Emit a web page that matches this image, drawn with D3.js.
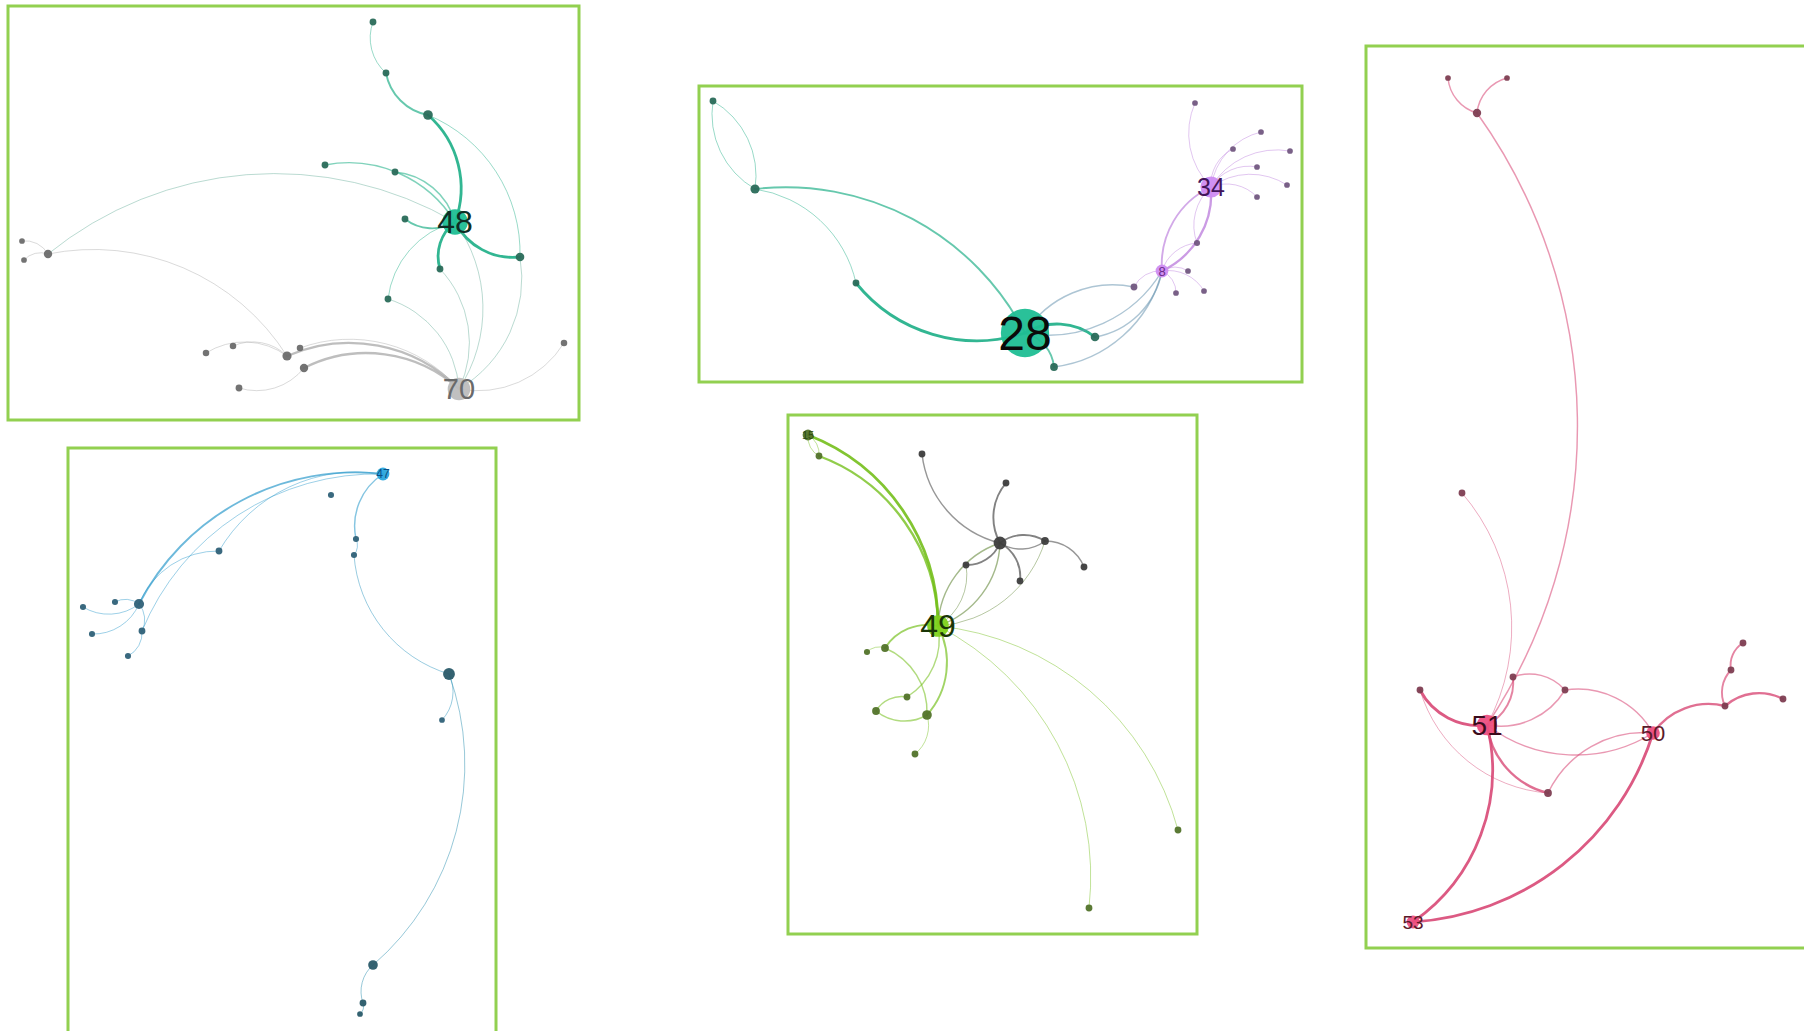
<!DOCTYPE html>
<html>
<head>
<meta charset="utf-8">
<script src="https://cdn.jsdelivr.net/npm/d3@7"></script>
<style>
  html, body { margin: 0; padding: 0; background: #fff; overflow: hidden; }
  svg { display: block; }
</style>
</head>
<body>
<svg id="chart" width="1804" height="1031"></svg>
<script>
// Community frames (layout space, same units as node coordinates)
const frames = [
  { id: "A", x0: 8,    y0: 6,   x1: 579,  y1: 420 },
  { id: "B", x0: 699,  y0: 86,  x1: 1302, y1: 382 },
  { id: "C", x0: 68,   y0: 448, x1: 496,  y1: 1070 },
  { id: "D", x0: 788,  y0: 415, x1: 1197, y1: 934 },
  { id: "E", x0: 1366, y0: 46,  x1: 1840, y1: 948 }
];

const groupColors = {
  teal: "#1fbe93",
  grey: "#bdbdbd",
  purple: "#cf8cf2",
  blue: "#2aa5dd",
  cyan: "#1b93b8",
  green: "#7fd11e",
  dark: "#4d4d4d",
  pink: "#ec4f80"
};

// ---- Community A (48 / 70) ----
const nodesA = [
  { id: "A1", x: 373, y: 22,  v: 1,   g: "teal" },
  { id: "A2", x: 386, y: 73,  v: 1,   g: "teal" },
  { id: "A3", x: 428, y: 115, v: 2,   g: "teal" },
  { id: "A4", x: 325, y: 165, v: 1,   g: "teal" },
  { id: "A5", x: 395, y: 172, v: 1,   g: "teal" },
  { id: "A48", x: 455, y: 222, v: 14, g: "teal", label: "48" },
  { id: "A6", x: 405, y: 219, v: 1,   g: "teal" },
  { id: "A7", x: 520, y: 257, v: 1.6, g: "teal" },
  { id: "A8", x: 440, y: 269, v: 1,   g: "teal" },
  { id: "A9", x: 388, y: 299, v: 1,   g: "teal" },
  { id: "A10", x: 22,  y: 241, v: 0.7, g: "grey" },
  { id: "A11", x: 24,  y: 260, v: 0.7, g: "grey" },
  { id: "A12", x: 48,  y: 254, v: 1.5, g: "grey" },
  { id: "A13", x: 206, y: 353, v: 0.9, g: "grey" },
  { id: "A14", x: 233, y: 346, v: 0.9, g: "grey" },
  { id: "A15", x: 287, y: 356, v: 1.8, g: "grey" },
  { id: "A16", x: 300, y: 348, v: 0.9, g: "grey" },
  { id: "A17", x: 304, y: 368, v: 1.5, g: "grey" },
  { id: "A18", x: 239, y: 388, v: 1,   g: "grey" },
  { id: "A70", x: 459, y: 389, v: 11,  g: "grey", label: "70" },
  { id: "A19", x: 564, y: 343, v: 0.9, g: "grey" }
];
const edgesA = [
  ["A2", "A1", 1], ["A3", "A2", 2], ["A3", "A48", 3], ["A4", "A48", 1.5],
  ["A5", "A48", 1.5], ["A48", "A6", 2], ["A7", "A48", 3], ["A8", "A48", 3],
  ["A3", "A7", 1], ["A7", "A70", 1], ["A48", "A70", 1], ["A8", "A70", 1],
  ["A9", "A48", 1], ["A9", "A70", 1], ["A12", "A48", 1], ["A12", "A15", 1],
  ["A10", "A12", 1], ["A11", "A12", 1], ["A13", "A15", 1], ["A14", "A15", 1],
  ["A15", "A70", 2.5], ["A17", "A70", 2.5], ["A16", "A70", 1], ["A17", "A18", 1],
  ["A19", "A70", 1]
];

// ---- Community B (28 / 8 / 34) ----
const nodesB = [
  { id: "B1", x: 713, y: 101, v: 1,   g: "teal" },
  { id: "B2", x: 755, y: 189, v: 1.8, g: "teal" },
  { id: "B3", x: 856, y: 283, v: 1,   g: "teal" },
  { id: "B28", x: 1025, y: 333, v: 50, g: "teal", label: "28" },
  { id: "B4", x: 1095, y: 337, v: 1.6, g: "teal" },
  { id: "B5", x: 1054, y: 367, v: 1.3, g: "teal" },
  { id: "B6", x: 1134, y: 287, v: 1,   g: "purple" },
  { id: "B8", x: 1162, y: 271, v: 3.5, g: "purple", label: "8" },
  { id: "B7", x: 1176, y: 293, v: 0.7, g: "purple" },
  { id: "B9", x: 1204, y: 291, v: 0.7, g: "purple" },
  { id: "B10", x: 1188, y: 271, v: 0.7, g: "purple" },
  { id: "B11", x: 1197, y: 243, v: 0.8, g: "purple" },
  { id: "B34", x: 1211, y: 187, v: 9.5, g: "purple", label: "34" },
  { id: "B12", x: 1195, y: 103, v: 0.7, g: "purple" },
  { id: "B13", x: 1261, y: 132, v: 0.7, g: "purple" },
  { id: "B14", x: 1233, y: 149, v: 0.7, g: "purple" },
  { id: "B15", x: 1290, y: 151, v: 0.7, g: "purple" },
  { id: "B16", x: 1257, y: 167, v: 0.7, g: "purple" },
  { id: "B17", x: 1287, y: 185, v: 0.7, g: "purple" },
  { id: "B18", x: 1257, y: 197, v: 0.7, g: "purple" }
];
const edgesB = [
  ["B1", "B2", 1], ["B2", "B1", 1], ["B2", "B28", 2], ["B2", "B3", 1],
  ["B28", "B3", 3], ["B28", "B4", 3], ["B28", "B5", 2], ["B8", "B5", 1.5],
  ["B8", "B4", 1.5], ["B28", "B6", 1.5], ["B8", "B28", 1.5], ["B6", "B8", 1],
  ["B8", "B34", 2], ["B34", "B8", 2.5], ["B11", "B34", 1], ["B8", "B11", 1],
  ["B34", "B12", 1], ["B34", "B13", 1], ["B34", "B14", 1], ["B34", "B15", 1],
  ["B34", "B16", 1], ["B34", "B17", 1], ["B34", "B18", 1],
  ["B8", "B7", 1], ["B8", "B9", 1], ["B8", "B10", 1]
];

// ---- Community C (47) ----
const nodesC = [
  { id: "C47", x: 383, y: 474, v: 3.5, g: "blue", label: "47" },
  { id: "C1", x: 331, y: 495, v: 0.8, g: "blue" },
  { id: "C2", x: 356, y: 539, v: 0.8, g: "blue" },
  { id: "C3", x: 354, y: 555, v: 0.8, g: "blue" },
  { id: "C4", x: 219, y: 551, v: 1,   g: "blue" },
  { id: "C5", x: 139, y: 604, v: 2.2, g: "blue" },
  { id: "C6", x: 83,  y: 607, v: 0.8, g: "blue" },
  { id: "C7", x: 115, y: 602, v: 0.8, g: "blue" },
  { id: "C8", x: 92,  y: 634, v: 0.8, g: "blue" },
  { id: "C9", x: 142, y: 631, v: 1,   g: "blue" },
  { id: "C10", x: 128, y: 656, v: 0.8, g: "blue" },
  { id: "C11", x: 449, y: 674, v: 3,   g: "cyan" },
  { id: "C12", x: 442, y: 720, v: 0.7, g: "blue" },
  { id: "C13", x: 373, y: 965, v: 2,   g: "cyan" },
  { id: "C14", x: 363, y: 1003, v: 1,  g: "cyan" },
  { id: "C15", x: 360, y: 1014, v: 0.7, g: "cyan" }
];
const edgesC = [
  ["C5", "C47", 2], ["C9", "C47", 1], ["C4", "C47", 1], ["C5", "C4", 1],
  ["C2", "C47", 1.5], ["C2", "C3", 1], ["C11", "C3", 1], ["C11", "C12", 1],
  ["C11", "C13", 1], ["C14", "C13", 1], ["C14", "C15", 1], ["C5", "C6", 1],
  ["C7", "C5", 1], ["C5", "C8", 1], ["C5", "C9", 1], ["C9", "C10", 1]
];

// ---- Community D (49 / 15) ----
const nodesD = [
  { id: "D15", x: 808, y: 435, v: 2.5, g: "green", label: "15" },
  { id: "D1", x: 819, y: 456, v: 1,   g: "green" },
  { id: "D2", x: 922, y: 454, v: 1,   g: "dark" },
  { id: "D3", x: 1006, y: 483, v: 1,  g: "dark" },
  { id: "DH", x: 1000, y: 543, v: 3.5, g: "dark" },
  { id: "D4", x: 1045, y: 541, v: 1.3, g: "dark" },
  { id: "D5", x: 1084, y: 567, v: 1,  g: "dark" },
  { id: "D6", x: 966, y: 565, v: 1,   g: "dark" },
  { id: "D7", x: 1020, y: 581, v: 1,  g: "dark" },
  { id: "D49", x: 938, y: 626, v: 10, g: "green", label: "49" },
  { id: "D8", x: 867, y: 652, v: 0.8, g: "green" },
  { id: "D9", x: 885, y: 648, v: 1.3, g: "green" },
  { id: "D10", x: 907, y: 697, v: 1,  g: "green" },
  { id: "D11", x: 876, y: 711, v: 1.3, g: "green" },
  { id: "D12", x: 927, y: 715, v: 2,  g: "green" },
  { id: "D13", x: 915, y: 754, v: 1,  g: "green" },
  { id: "D14", x: 1178, y: 830, v: 1, g: "green" },
  { id: "D16", x: 1089, y: 908, v: 1, g: "green" }
];
const edgesD = [
  ["D15", "D49", 3], ["D1", "D49", 2.5], ["D15", "D1", 1], ["D1", "D15", 1],
  ["DH", "D2", 1.5], ["DH", "D3", 2], ["DH", "D4", 2], ["D4", "DH", 1.5],
  ["D4", "D5", 1.5], ["DH", "D6", 2], ["DH", "D7", 2], ["D49", "DH", 1.5],
  ["DH", "D49", 1.5], ["D4", "D49", 1], ["D6", "D49", 1], ["D9", "D49", 2],
  ["D8", "D9", 1], ["D9", "D12", 1.5], ["D49", "D10", 1.5], ["D11", "D10", 1.5],
  ["D12", "D11", 1.5], ["D49", "D12", 2], ["D12", "D13", 1],
  ["D49", "D14", 1], ["D49", "D16", 1]
];

// ---- Community E (51 / 50 / 53) ----
const nodesE = [
  { id: "E1", x: 1448, y: 78,  v: 0.7, g: "pink" },
  { id: "E2", x: 1507, y: 78,  v: 0.7, g: "pink" },
  { id: "E3", x: 1477, y: 113, v: 1.5, g: "pink" },
  { id: "E4", x: 1462, y: 493, v: 1,   g: "pink" },
  { id: "E5", x: 1513, y: 677, v: 1,   g: "pink" },
  { id: "E6", x: 1420, y: 690, v: 1,   g: "pink" },
  { id: "E7", x: 1565, y: 690, v: 1,   g: "pink" },
  { id: "E51", x: 1487, y: 725, v: 9,  g: "pink", label: "51" },
  { id: "E50", x: 1653, y: 733, v: 4,  g: "pink", label: "50" },
  { id: "E8", x: 1548, y: 793, v: 1.3, g: "pink" },
  { id: "E53", x: 1413, y: 922, v: 3.5, g: "pink", label: "53" },
  { id: "E9", x: 1743, y: 643, v: 1,   g: "pink" },
  { id: "E10", x: 1731, y: 670, v: 1,  g: "pink" },
  { id: "E11", x: 1725, y: 706, v: 1,  g: "pink" },
  { id: "E12", x: 1783, y: 699, v: 1,  g: "pink" }
];
const edgesE = [
  ["E3", "E1", 1.5], ["E3", "E2", 1.5], ["E3", "E51", 1.5], ["E4", "E51", 1],
  ["E5", "E51", 2], ["E51", "E6", 3], ["E8", "E6", 1], ["E5", "E7", 1.5],
  ["E7", "E50", 1.5], ["E7", "E51", 1.5], ["E50", "E51", 1.5], ["E8", "E51", 2.5],
  ["E8", "E50", 1.5], ["E51", "E53", 3], ["E50", "E53", 3], ["E50", "E11", 2.5],
  ["E11", "E10", 2], ["E10", "E9", 2], ["E11", "E12", 2.5]
];

const labelStyles = {
  "48": { size: 32, fill: "#0f2e24" },
  "70": { size: 29, fill: "#6a6a6a" },
  "28": { size: 48, fill: "#0a0a0a" },
  "34": { size: 25, fill: "#43155a" },
  "8":  { size: 13, fill: "#6a2a8a" },
  "47": { size: 12, fill: "#0b4f85" },
  "15": { size: 11, fill: "#2a4a10" },
  "49": { size: 32, fill: "#1a3606" },
  "51": { size: 28, fill: "#3a0c1c" },
  "50": { size: 22, fill: "#5a1a2a" },
  "53": { size: 19, fill: "#5a1a2a" }
};

const W = 1804, H = 1031;
const svg = d3.select("#chart");
const x = d3.scaleLinear().domain([0, 1804]).range([0, W]);
const y = d3.scaleLinear().domain([0, 1031]).range([0, H]);
const radius = d3.scaleSqrt().domain([0, 50]).range([0, 23]);
const edgeWidth = d3.scaleLinear().domain([1, 3]).range([1, 2.8]);
const edgeAlpha = d3.scaleLinear().domain([1, 3]).range([0.45, 0.9]);

const allNodes = [...nodesA, ...nodesB, ...nodesC, ...nodesD, ...nodesE];
const byId = new Map(allNodes.map(d => [d.id, d]));
const allEdges = [...edgesA, ...edgesB, ...edgesC, ...edgesD, ...edgesE].map(([s, t, w]) => ({
  source: byId.get(s), target: byId.get(t), w
}));

// Curved edge: clockwise circular arc from source to target
function arcPath(e) {
  const sx = x(e.source.x), sy = y(e.source.y);
  const tx = x(e.target.x), ty = y(e.target.y);
  const dist = Math.hypot(tx - sx, ty - sy);
  const rr = dist * 0.88;
  return `M${sx},${sy}A${rr},${rr} 0 0,1 ${tx},${ty}`;
}

function edgeColor(e) {
  const c = d3.interpolateRgb(groupColors[e.source.g], groupColors[e.target.g])(0.5);
  return d3.color(c).darker(0.25).formatHex();
}

function nodeFill(d) {
  const c = groupColors[d.g];
  if (d.label && d.v >= 3) return c;
  return d3.interpolateRgb(d3.color(c).darker(1.3).formatHex(), "#555555")(0.35);
}

// Frames
svg.append("g").selectAll("rect").data(frames).join("rect")
  .attr("x", d => x(d.x0)).attr("y", d => y(d.y0))
  .attr("width", d => x(d.x1) - x(d.x0)).attr("height", d => y(d.y1) - y(d.y0))
  .attr("fill", "none").attr("stroke", "#92d050").attr("stroke-width", 3);

// Edges
svg.append("g").attr("fill", "none").selectAll("path").data(allEdges).join("path")
  .attr("d", arcPath)
  .attr("stroke", edgeColor)
  .attr("stroke-width", d => edgeWidth(d.w))
  .attr("stroke-opacity", d => edgeAlpha(d.w))
  .attr("stroke-linecap", "round");

// Nodes
svg.append("g").selectAll("circle").data(allNodes).join("circle")
  .attr("cx", d => x(d.x)).attr("cy", d => y(d.y))
  .attr("r", d => radius(d.v) * 1.05)
  .attr("fill", nodeFill)
  .attr("fill-opacity", 0.95);

// Hub labels
svg.append("g").selectAll("text").data(allNodes.filter(d => d.label)).join("text")
  .attr("x", d => x(d.x)).attr("y", d => y(d.y))
  .attr("text-anchor", "middle")
  .attr("dominant-baseline", "central")
  .attr("font-family", "'Liberation Sans', Arial, sans-serif")
  .attr("font-size", d => labelStyles[d.label].size)
  .attr("fill", d => labelStyles[d.label].fill)
  .text(d => d.label);
</script>
</body>
</html>
